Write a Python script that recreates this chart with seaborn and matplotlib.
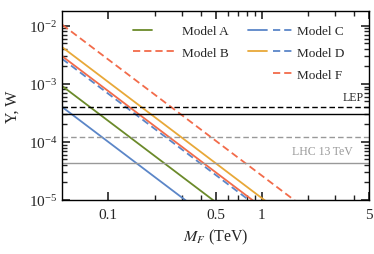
import numpy as np
import pandas as pd
import matplotlib
matplotlib.use('Agg')
import matplotlib.pyplot as plt
import seaborn as sns
from matplotlib.lines import Line2D
from matplotlib.legend_handler import HandlerTuple
from matplotlib.ticker import FixedLocator, NullFormatter

# line endpoints (straight lines on log-log)
m_ends = [0.05, 5.0]
y_model_a = [9.2e-4, 9.2e-8]        # green solid
y_model_c = [4.0e-4, 4.0e-8]        # blue solid
y_blue_dash = [2.7e-3, 2.7e-7]      # blue dashed
y_red_solid = [3.0e-3, 3.0e-7]      # red solid
y_model_d = [4.3e-3, 4.3e-7]        # yellow solid
y_red_dash = [1.05e-2, 1.05e-6]     # red dashed

# experimental bounds
lep_bounds = [4.0e-4, 3.0e-4]       # dashed, solid
lhc_bounds = [1.2e-4, 4.4e-5]       # dashed, solid

x_major = [0.1, 0.5, 1, 5]
x_major_labels = ['0.1', '0.5', '1', '5']
x_minor = [0.2, 0.3, 0.4, 0.6, 0.7, 0.8, 0.9, 2, 3, 4]

green = '#6b8a2a'
blue = '#5b86c8'
red = '#f26b4a'
yellow = '#e8a838'

sns.set_style('ticks')
plt.rcParams['font.family'] = 'serif'
plt.rcParams['font.serif'] = ['Liberation Serif', 'DejaVu Serif']
plt.rcParams['mathtext.fontset'] = 'stix'

fig = plt.figure(figsize=(3.74, 2.55), dpi=100)
ax = fig.add_axes([0.166, 0.212, 0.821, 0.741])

dash = (4, 2.2)
series = [
    (y_model_c, blue, '-'),
    (y_model_a, green, '-'),
    (y_blue_dash, blue, '--'),
    (y_red_solid, red, '-'),
    (y_model_d, yellow, '-'),
    (y_red_dash, red, '--'),
]
for yv, col, ls in series:
    df = pd.DataFrame({'M': m_ends, 'Y': yv})
    l = sns.lineplot(data=df, x='M', y='Y', color=col, lw=1.3, ax=ax, legend=False)
    if ls == '--':
        l.lines[-1].set_dashes(dash)

ax.axhline(lep_bounds[0], color='black', lw=1.0, dashes=dash)
ax.axhline(lep_bounds[1], color='black', lw=1.0)
ax.axhline(lhc_bounds[0], color='#999999', lw=1.0, dashes=dash)
ax.axhline(lhc_bounds[1], color='#999999', lw=1.0)

ax.text(4.6, 4.6e-4, 'LEP', ha='right', va='bottom', fontsize=8.5)
ax.text(3.9, 5.5e-5, 'LHC 13\u2009TeV', ha='right', va='bottom', fontsize=8.5,
        color='#999999')

ax.set_xscale('log')
ax.set_yscale('log')
ax.set_xlim(0.05, 5)
ax.set_ylim(1e-5, 1.8e-2)
ax.xaxis.set_major_locator(FixedLocator(x_major))
ax.set_xticklabels(x_major_labels)
ax.xaxis.set_minor_locator(FixedLocator(x_minor))
ax.xaxis.set_minor_formatter(NullFormatter())
ax.tick_params(labelsize=11)
ax.tick_params(axis='x', which='major', pad=6)
for s in ax.spines.values():
    s.set_linewidth(1.0)
    s.set_color('black')

ax.set_xlabel('$M_F$ (TeV)', fontsize=11.5, labelpad=4)
ax.set_ylabel('Y, W', fontsize=11.5, labelpad=6)

def mk(col, ls='-'):
    h = Line2D([], [], color=col, lw=1.3)
    if ls == '--':
        h.set_dashes(dash)
    return h

blank = Line2D([], [], color='none')
handles = [(mk(green), blank), mk(red, '--'), blank,
           (mk(blue), mk(blue, '--')), (mk(yellow), mk(blue, '--')),
           (blank, mk(red, '--'))]
labels = ['Model A', 'Model B', '', 'Model C', 'Model D', 'Model F']
fig.legend(handles, labels, ncol=2, frameon=False, fontsize=9.5,
           handler_map={tuple: HandlerTuple(ndivide=None, pad=0.45)},
           handlelength=3.33, handletextpad=0.38, columnspacing=1.45,
           labelspacing=0.72, borderpad=0, borderaxespad=0,
           loc='upper left', bbox_to_anchor=(133 / 374, 1 - 26 / 255))

# ticks inside on every side, set last
ax.tick_params(which='both', direction='in', top=True, right=True,
               color='#222222')
ax.tick_params(which='major', length=6, width=1.2)
ax.tick_params(which='minor', length=3.5, width=1.0)

fig.savefig('out.png', dpi=100)
